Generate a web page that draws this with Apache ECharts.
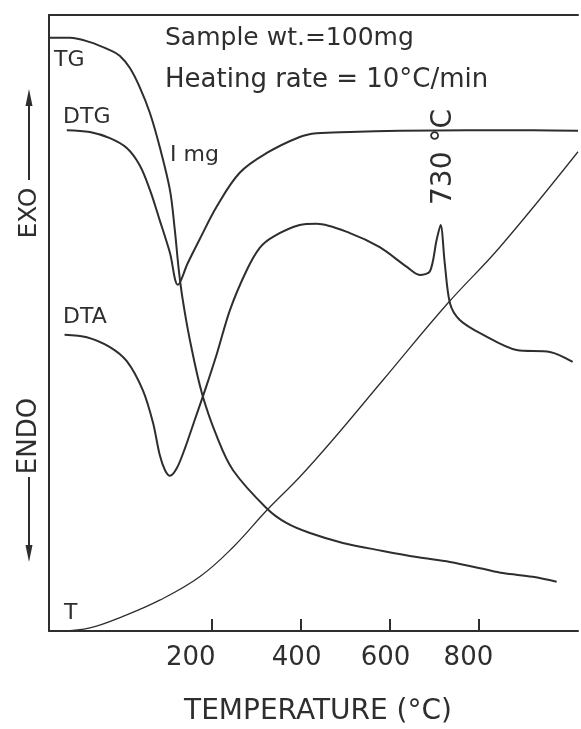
<!DOCTYPE html>
<html>
<head>
<meta charset="utf-8">
<script src="https://cdn.jsdelivr.net/npm/echarts@6/dist/echarts.min.js"></script>
<style>
html,body{margin:0;padding:0;background:#fff;}
#chart{width:581px;height:729px;}
</style>
</head>
<body>
<div id="chart"></div>
<script>
// ---- data (x in axis temperature units, y in relative signal units 0-100) ----
const tempTicks = [200, 400, 600, 800];

const tgData = [
  [-164, 96.3], [-119, 96.3], [-74, 95.6], [-29, 94.3], [-7, 93.4], [16, 91.4],
  [38, 88.3], [61, 84.1], [83, 78.6], [106, 71.6], [117, 65.1], [126, 58.6],
  [135, 53.7], [151, 47.2], [178, 38.6], [212, 31.5], [248, 26.1], [324, 19.9],
  [369, 17.5], [421, 15.9], [495, 14.3], [585, 13.0], [661, 12.0], [736, 11.2],
  [810, 10.1], [855, 9.4], [922, 8.8], [976, 8.0]
];

const dtgData = [
  [-126, 81.3], [-74, 81.0], [-29, 80.0], [9, 78.4], [38, 75.6], [61, 71.6],
  [83, 66.7], [106, 61.4], [124, 56.2], [146, 59.7], [173, 63.6], [212, 69.0],
  [263, 74.4], [324, 77.6], [398, 80.2], [436, 80.8], [511, 81.0], [623, 81.2],
  [774, 81.3], [922, 81.3], [1024, 81.2]
];

const dtaData = [
  [-131, 48.1], [-81, 47.7], [-29, 46.1], [9, 43.8], [45, 39.1], [68, 33.8],
  [83, 28.6], [95, 26.1], [106, 25.2], [122, 26.5], [140, 29.7], [162, 34.3],
  [185, 39.1], [212, 45.1], [241, 52.1], [279, 58.6], [308, 62.2], [338, 64.0],
  [398, 65.9], [436, 66.1], [511, 64.6], [578, 62.3], [639, 59.1], [668, 57.8],
  [691, 58.4], [706, 63.5], [715, 65.9], [724, 59.9], [736, 53.2], [758, 50.5],
  [810, 48.1], [886, 45.6], [961, 45.3], [1012, 43.7]
];

const tData = [
  [-137, 0.0], [-74, 0.5], [-2, 2.3], [83, 5.0], [173, 8.8], [248, 13.6],
  [324, 19.6], [398, 25.0], [472, 31.0], [585, 40.7], [731, 53.2], [848, 62.3],
  [1024, 77.8]
];

// ---- styling ----
const INK = '#2e2e2e';
const FONT = '"DejaVu Sans", "Noto Sans", sans-serif';

function curve(name, data, width, smooth) {
  return {
    name: name, type: 'line', data: data, showSymbol: false, smooth: smooth,
    lineStyle: { color: INK, width: width }, silent: true
  };
}

const labelPad = { 200: 42, 400: 8, 600: 8, 800: 20 };
const rich = {};
tempTicks.forEach(v => {
  rich['p' + v] = { fontSize: 26, fontFamily: FONT, color: INK, padding: [0, labelPad[v], 0, 0] };
});

const chart = echarts.init(document.getElementById('chart'), null, { renderer: 'canvas' });
chart.setOption({
  animation: false,
  backgroundColor: '#fff',
  grid: { left: 49, right: 3, top: 15, bottom: 98 },
  xAxis: [{
    type: 'value', min: -166, max: 1024,
    axisLine: { show: true, onZero: false, lineStyle: { color: INK, width: 2 } },
    axisTick: { show: true, inside: true, length: 12, customValues: tempTicks, lineStyle: { color: INK, width: 2 } },
    axisLabel: {
      show: true, customValues: tempTicks, margin: 14,
      formatter: v => '{p' + v + '|' + v + '}', rich: rich
    },
    splitLine: { show: false }
  }, {
    type: 'value', position: 'top', min: -166, max: 1024,
    axisLine: { show: true, onZero: false, lineStyle: { color: INK, width: 2 } },
    axisTick: { show: false }, axisLabel: { show: false }, splitLine: { show: false }
  }],
  yAxis: {
    type: 'value', min: 0, max: 100,
    axisLine: { show: true, onZero: false, lineStyle: { color: INK, width: 2 } },
    axisTick: { show: false }, axisLabel: { show: false }, splitLine: { show: false }
  },
  series: [
    curve('TG', tgData, 2, 0.35),
    curve('DTG', dtgData, 2, 0.35),
    curve('DTA', dtaData, 2, 0.3),
    curve('T', tData, 1.3, 0.4)
  ],
  graphic: [
    { type: 'text', x: 165, y: 38, style: { text: 'Sample wt.=100mg', font: '25px ' + FONT, fill: INK, align: 'left', verticalAlign: 'middle' } },
    { type: 'text', x: 165, y: 80, style: { text: 'Heating rate = 10°C/min', font: '26px ' + FONT, fill: INK, align: 'left', verticalAlign: 'middle' } },
    { type: 'text', x: 54, y: 60, style: { text: 'TG', font: '22px ' + FONT, fill: INK, align: 'left', verticalAlign: 'middle' } },
    { type: 'text', x: 63, y: 117, style: { text: 'DTG', font: '22px ' + FONT, fill: INK, align: 'left', verticalAlign: 'middle' } },
    { type: 'text', x: 170, y: 155, style: { text: 'I mg', font: '22px ' + FONT, fill: INK, align: 'left', verticalAlign: 'middle' } },
    { type: 'text', x: 63, y: 317, style: { text: 'DTA', font: '22px ' + FONT, fill: INK, align: 'left', verticalAlign: 'middle' } },
    { type: 'text', x: 64, y: 613, style: { text: 'T', font: '22px ' + FONT, fill: INK, align: 'left', verticalAlign: 'middle' } },
    { type: 'text', x: 444, y: 157, rotation: Math.PI / 2, style: { text: '730 °C', font: '28px ' + FONT, fill: INK, align: 'center', verticalAlign: 'middle' } },
    { type: 'text', x: 29, y: 213, rotation: Math.PI / 2, style: { text: 'EXO', font: '25px ' + FONT, fill: INK, align: 'center', verticalAlign: 'middle' } },
    { type: 'text', x: 29, y: 436, rotation: Math.PI / 2, style: { text: 'ENDO', font: '26px ' + FONT, fill: INK, align: 'center', verticalAlign: 'middle' } },
    { type: 'line', shape: { x1: 29, y1: 180, x2: 29, y2: 100 }, style: { stroke: INK, lineWidth: 2 } },
    { type: 'polygon', shape: { points: [[29, 89], [25.5, 106], [32.5, 106]] }, style: { fill: INK } },
    { type: 'line', shape: { x1: 29, y1: 477, x2: 29, y2: 550 }, style: { stroke: INK, lineWidth: 2 } },
    { type: 'polygon', shape: { points: [[29, 562], [25.5, 545], [32.5, 545]] }, style: { fill: INK } },
    { type: 'text', x: 318, y: 712, style: { text: 'TEMPERATURE (°C)', font: '28px ' + FONT, fill: INK, align: 'center', verticalAlign: 'middle' } }
  ]
});
</script>
</body>
</html>
